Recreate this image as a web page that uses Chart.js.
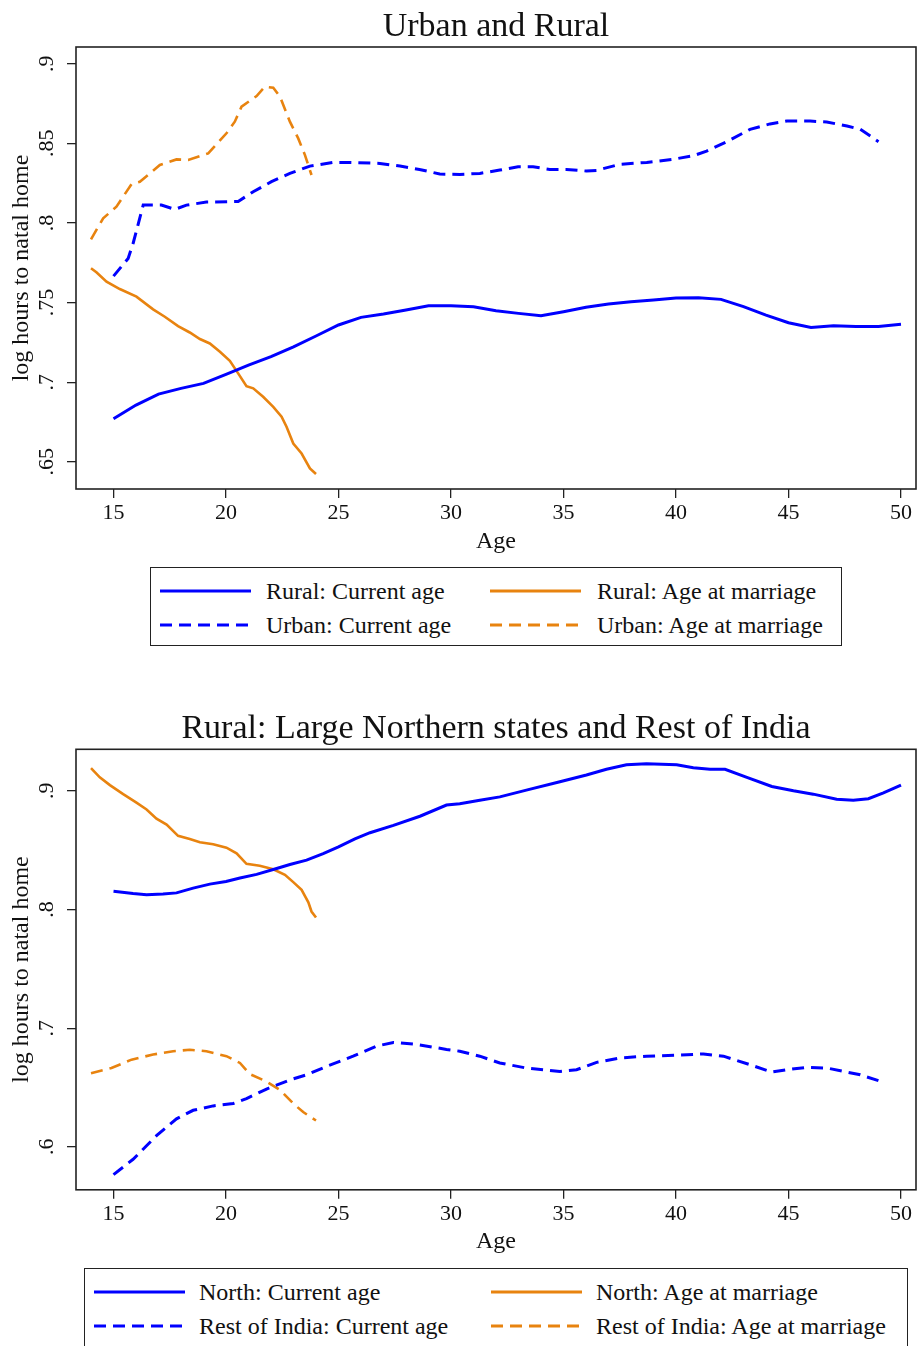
<!DOCTYPE html>
<html><head><meta charset="utf-8">
<script src="https://cdn.jsdelivr.net/npm/chart.js@4.4.1/dist/chart.umd.min.js"></script>
<style>
html,body{margin:0;padding:0;background:#fff;}
body{position:relative;width:917px;height:1346px;overflow:hidden;font-family:"Liberation Serif","Times New Roman",serif;}
canvas{position:absolute;left:0;}
.legend{position:absolute;border:1.5px solid #222;box-sizing:border-box;background:transparent;}
.item{position:absolute;height:34px;line-height:34px;font-size:24px;color:#111;white-space:nowrap;}
.swatch{position:absolute;}
</style></head><body>
<canvas id="c1" width="917" height="560" style="top:0px"></canvas>
<canvas id="c2" width="917" height="560" style="top:700px"></canvas>
<div id="leg1" class="legend" style="left:150px;top:567px;width:692px;height:79px"></div>
<div id="leg2" class="legend" style="left:84px;top:1268px;width:824px;height:82px"></div>
<script>
// ---------- data: chart 1 (Urban and Rural) ----------
const xTicks = [15, 20, 25, 30, 35, 40, 45, 50];
const yTicks1 = [0.65, 0.7, 0.75, 0.8, 0.85, 0.9];
const yTicks2 = [0.6, 0.7, 0.8, 0.9];

const ruralCurAge = [15,16,17,18,19,20,21,22,23,24,25,26,27,28,29,30,31,32,33,34,35,36,37,38,39,40,41,42,43,44,45,46,47,48,49,50];
const ruralCurVal = [.677,.6856,.6925,.6961,.6992,.7049,.7107,.716,.7222,.729,.7359,.7407,.7428,.7453,.748,.748,.7474,.7449,.7432,.7417,.7442,.747,.7491,.7505,.7516,.7528,.753,.752,.7474,.7421,.7373,.7344,.7354,.735,.735,.7363];

const urbanCurAge = [15,15.65,15.87,16.32,17.13,17.73,18.24,19.13,20.54,21.21,22.02,22.84,23.73,24.76,25.5,26.84,27.73,28.6,29.5,30.39,31.28,32.17,32.98,33.65,34.39,35.13,36.02,36.47,37.5,38.7,39.88,40.77,41.36,42.26,43.29,44.18,44.93,45.96,46.7,47.6,48.19,48.64,49.0];
const urbanCurVal = [.7666,.7777,.7871,.8112,.8112,.8085,.8112,.8131,.8135,.8196,.8259,.8311,.8357,.838,.838,.8374,.8357,.8336,.8307,.8305,.8311,.8332,.8353,.8353,.8336,.8336,.8326,.833,.8368,.838,.84,.8422,.8451,.851,.8588,.8622,.864,.864,.8634,.8609,.8588,.8546,.851];

const ruralMarAge = [14,14.24,14.69,15.28,16.02,16.76,17.28,17.87,18.39,18.84,19.28,19.73,20.17,20.54,20.91,21.21,21.65,22.1,22.47,22.69,22.99,23.36,23.73,24.0];
const ruralMarVal = [.7715,.769,.7631,.7585,.7537,.7457,.7411,.7352,.7312,.7271,.7243,.7191,.7134,.7055,.6975,.6961,.6908,.6845,.6783,.672,.6615,.6552,.6458,.6423];

const urbanMarAge = [14,14.54,15.13,15.8,16.17,17.06,17.8,18.32,19.21,20.02,20.39,20.69,21.36,21.73,22.1,22.4,22.84,23.21,23.51,23.8];
const urbanMarVal = [.7897,.8029,.8102,.8244,.8259,.8364,.8399,.8395,.8437,.8563,.8636,.873,.8797,.8856,.8849,.8793,.8636,.8531,.8426,.8301];

// ---------- data: chart 2 (Northern states vs Rest of India) ----------
const northCurAge = [15,15.87,16.47,17.2,17.8,18.54,19.28,20,20.62,21.36,22.25,22.84,23.58,24.32,25,25.73,26.4,27.44,28.62,29.8,30.39,31.28,32.17,33.35,34.84,36.02,36.91,37.8,38.69,40.03,40.77,41.51,42.18,43.15,44.26,45.22,46.1,47.14,47.88,48.55,49.22,50];
const northCurVal = [.8154,.8134,.8125,.8131,.814,.818,.8214,.8236,.8265,.8296,.8345,.8379,.8416,.847,.8527,.8595,.8647,.8709,.8786,.888,.8892,.892,.8949,.9006,.9077,.9134,.9182,.9219,.9228,.9219,.9194,.9182,.9182,.9114,.9037,.9,.8972,.8929,.892,.8934,.8983,.9048];

const restCurAge = [15,15.87,16.91,17.8,18.54,19.43,20.32,20.91,21.8,22.84,23.58,24.47,25.65,26.69,27.44,28.47,29.8,30.39,31.28,32.17,33.35,34.84,35.58,36.47,37.5,38.69,40.03,41.22,42.11,43.29,44.26,44.93,45.82,46.71,47.6,48.19,49];
const restCurVal = [.5766,.5895,.6094,.6236,.6308,.6345,.6365,.6407,.6487,.6564,.6607,.6678,.6764,.6849,.688,.6863,.6821,.6806,.6764,.6707,.6664,.6635,.665,.6712,.6749,.6764,.6772,.6783,.6764,.6692,.663,.665,.667,.6664,.663,.6607,.6558];

const northMarAge = [14,14.39,14.84,15.43,16.02,16.47,16.91,17.36,17.87,18.39,18.84,19.43,20.02,20.47,20.91,21.5,22.1,22.62,22.99,23.36,23.66,23.8,24];
const northMarVal = [.9191,.9114,.9048,.8972,.89,.8843,.8766,.8715,.8621,.8595,.8567,.855,.8521,.8473,.8385,.8368,.8339,.8293,.8231,.8165,.806,.7983,.7932];

const restMarAge = [14,14.91,15.8,16.76,17.65,18.39,19.13,20.02,20.62,21.06,21.8,22.4,22.99,23.43,24];
const restMarVal = [.6621,.6664,.6735,.6778,.6806,.6818,.6806,.6764,.6707,.6613,.655,.6479,.6365,.6293,.6222];

// ---------- styling ----------
const FONT = '"Liberation Serif","Times New Roman",serif';
const BLUE = '#0000ff';
const ORANGE = '#e8830f';
const DASH = [12, 7];
const pts = (xs, ys) => xs.map((x, i) => ({x: x, y: ys[i]}));
const fmt = v => String(+Number(v).toFixed(2)).replace(/^0/, '');

function ds(label, xs, ys, color, dashed, width) {
  return {label, data: pts(xs, ys), borderColor: color, backgroundColor: color,
    borderWidth: width, borderDash: dashed ? DASH : [], pointRadius: 0, tension: 0, fill: false};
}

const framePlugin = {
  id: 'frame',
  afterDraw(chart) {
    const {ctx, chartArea: a} = chart;
    ctx.save();
    ctx.strokeStyle = '#222'; ctx.lineWidth = 1.6;
    ctx.strokeRect(a.left, a.top, a.right - a.left, a.bottom - a.top);
    const t = chart.options.plugins.stataTitle;
    ctx.fillStyle = '#111';
    ctx.font = '34px ' + FONT;
    ctx.textAlign = 'center'; ctx.textBaseline = 'alphabetic';
    ctx.fillText(t.text, (a.left + a.right) / 2, t.baseline);
    ctx.restore();
  }
};

function makeChart(id, o) {
  return new Chart(document.getElementById(id), {
    type: 'line',
    data: {datasets: o.datasets},
    plugins: [framePlugin],
    options: {
      responsive: false, animation: false,
      layout: {padding: {top: o.top, right: 1, left: 0, bottom: 0}},
      plugins: {legend: {display: false}, tooltip: {enabled: false},
        stataTitle: {text: o.title, baseline: o.titleBaseline}},
      scales: {
        x: {type: 'linear', min: 13.333, max: 50.667,
          afterBuildTicks: s => { s.ticks = xTicks.map(v => ({value: v})); },
          afterFit: s => { s.height = o.xH; },
          border: {display: false},
          grid: {drawOnChartArea: false, drawTicks: true, tickLength: 9, color: '#222', lineWidth: 1.3},
          ticks: {autoSkip: false, maxRotation: 0, padding: 2, color: '#111', font: {family: FONT, size: 22}},
          title: {display: true, text: 'Age', color: '#111', font: {family: FONT, size: 24}, padding: {top: 0, bottom: 3.6}}
        },
        y: {type: 'linear', min: o.yMin, max: o.yMax,
          afterBuildTicks: s => { s.ticks = o.yTicks.map(v => ({value: v})); },
          afterFit: s => { s.width = 76; },
          border: {display: false},
          grid: {drawOnChartArea: false, drawTicks: true, tickLength: 9, color: '#222', lineWidth: 1.3},
          ticks: {autoSkip: false, minRotation: 90, maxRotation: 90, crossAlign: 'center', padding: o.yPad,
            color: '#111', font: {family: FONT, size: 22}, callback: fmt},
          title: {display: true, text: 'log hours to natal home', color: '#111', font: {family: FONT, size: 24}, padding: {top: 7.6, bottom: 0}}
        }
      }
    }
  });
}

makeChart('c1', {
  title: 'Urban and Rural', titleBaseline: 35.7, top: 47, xH: 71,
  yMin: 0.6329, yMax: 0.9105, yTicks: yTicks1, yPad: 6.25,
  datasets: [
    ds('Rural: Current age', ruralCurAge, ruralCurVal, BLUE, false, 3),
    ds('Urban: Current age', urbanCurAge, urbanCurVal, BLUE, true, 3),
    ds('Rural: Age at marriage', ruralMarAge, ruralMarVal, ORANGE, false, 2.6),
    ds('Urban: Age at marriage', urbanMarAge, urbanMarVal, ORANGE, true, 2.6)
  ]
});

makeChart('c2', {
  title: 'Rural: Large Northern states and Rest of India', titleBaseline: 38, top: 49.3, xH: 70.2,
  yMin: 0.5638, yMax: 0.935, yTicks: yTicks2, yPad: 11.75,
  datasets: [
    ds('North: Current age', northCurAge, northCurVal, BLUE, false, 3),
    ds('Rest of India: Current age', restCurAge, restCurVal, BLUE, true, 3),
    ds('North: Age at marriage', northMarAge, northMarVal, ORANGE, false, 2.6),
    ds('Rest of India: Age at marriage', restMarAge, restMarVal, ORANGE, true, 2.6)
  ]
});

// ---------- HTML legends ----------
const legend1 = [
  {text: 'Rural: Current age', color: BLUE, dashed: false, sx: 160, tx: 266, cy: 591},
  {text: 'Rural: Age at marriage', color: ORANGE, dashed: false, sx: 490, tx: 597, cy: 591},
  {text: 'Urban: Current age', color: BLUE, dashed: true, sx: 160, tx: 266, cy: 625},
  {text: 'Urban: Age at marriage', color: ORANGE, dashed: true, sx: 490, tx: 597, cy: 625}
];
const legend2 = [
  {text: 'North: Current age', color: BLUE, dashed: false, sx: 94, tx: 199, cy: 1292},
  {text: 'North: Age at marriage', color: ORANGE, dashed: false, sx: 491, tx: 596, cy: 1292},
  {text: 'Rest of India: Current age', color: BLUE, dashed: true, sx: 94, tx: 199, cy: 1326},
  {text: 'Rest of India: Age at marriage', color: ORANGE, dashed: true, sx: 491, tx: 596, cy: 1326}
];
function addLegend(items) {
  items.forEach(it => {
    const ns = 'http://www.w3.org/2000/svg';
    const svg = document.createElementNS(ns, 'svg');
    svg.setAttribute('width', '91'); svg.setAttribute('height', '6');
    svg.setAttribute('class', 'swatch');
    svg.style.left = it.sx + 'px'; svg.style.top = (it.cy - 3) + 'px';
    const ln = document.createElementNS(ns, 'line');
    ln.setAttribute('x1', '0'); ln.setAttribute('x2', '91'); ln.setAttribute('y1', '3'); ln.setAttribute('y2', '3');
    ln.setAttribute('stroke', it.color); ln.setAttribute('stroke-width', '3');
    if (it.dashed) ln.setAttribute('stroke-dasharray', DASH.join(' '));
    svg.appendChild(ln);
    document.body.appendChild(svg);
    const d = document.createElement('div');
    d.className = 'item'; d.textContent = it.text;
    d.style.left = it.tx + 'px'; d.style.top = (it.cy - 17) + 'px';
    document.body.appendChild(d);
  });
}
addLegend(legend1);
addLegend(legend2);
</script>
</body></html>
